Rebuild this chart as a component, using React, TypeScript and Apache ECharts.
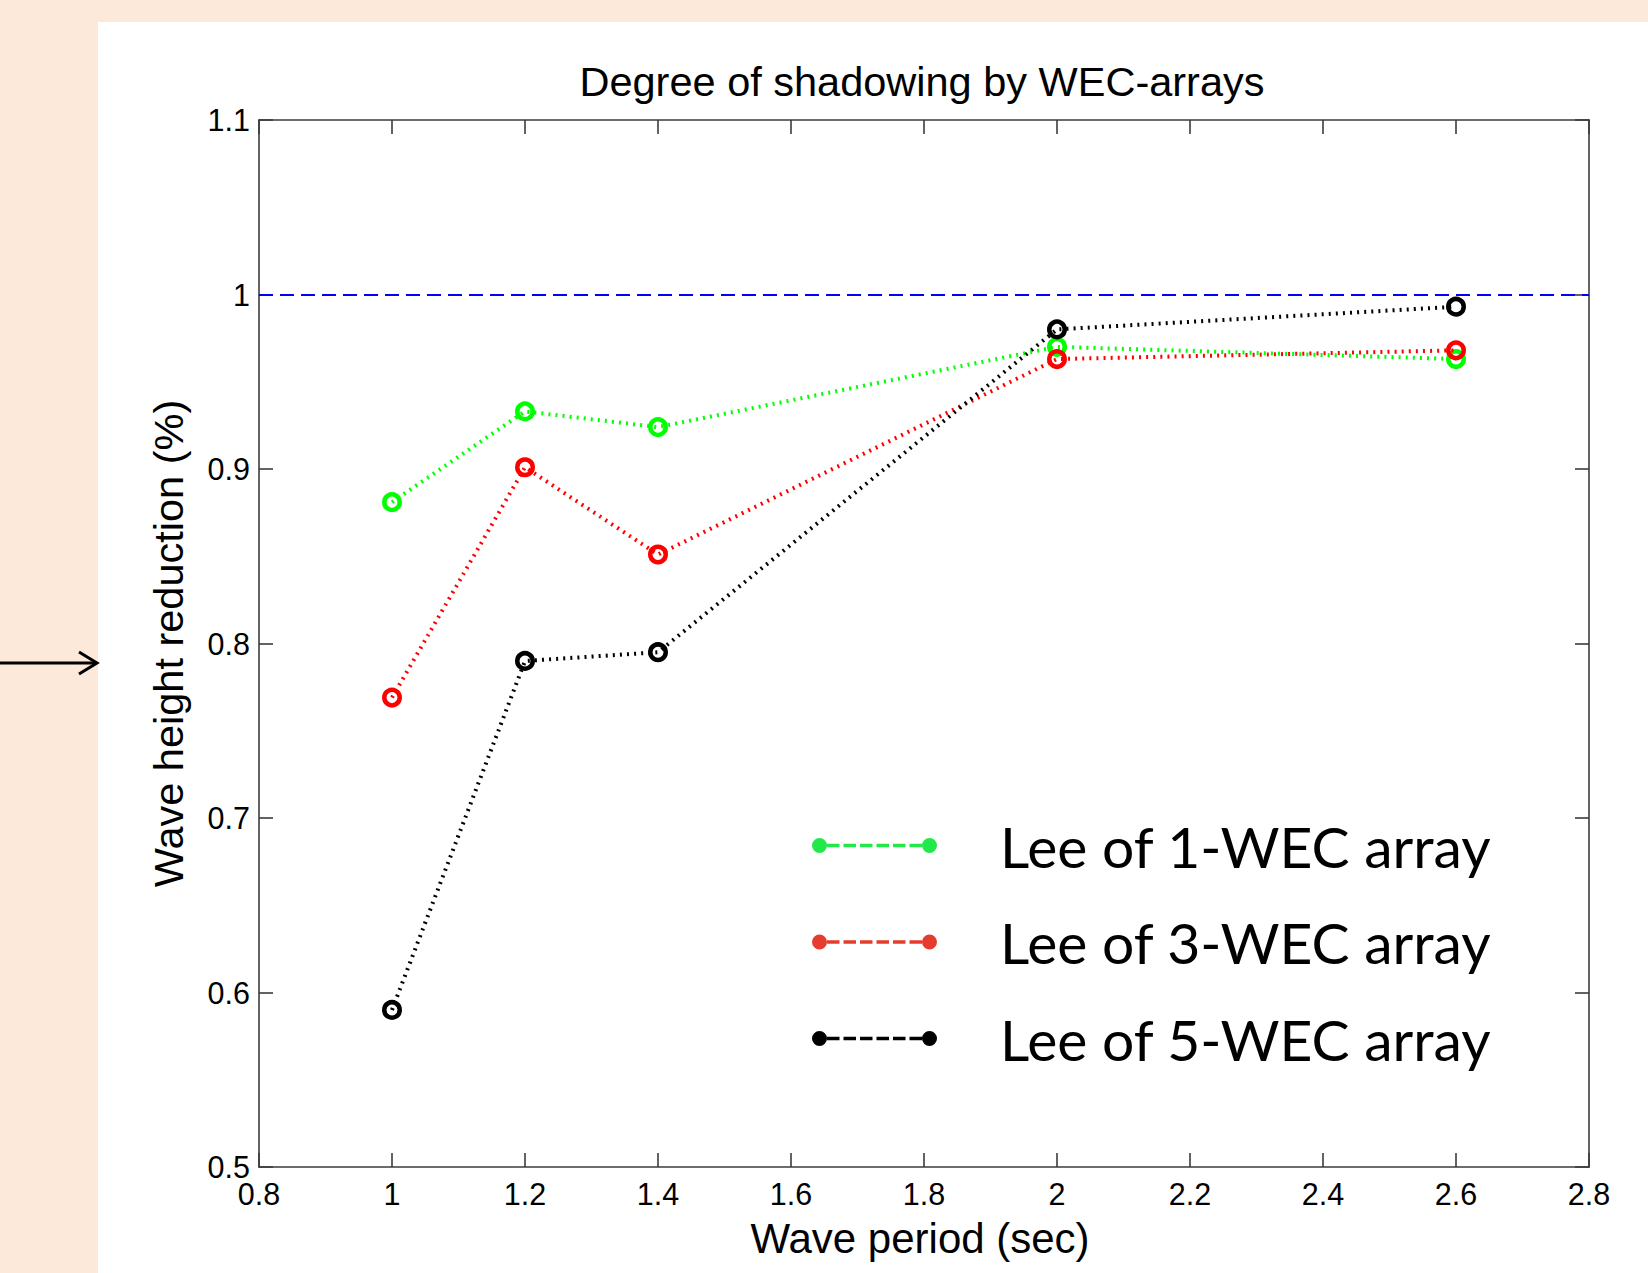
import React, { useEffect, useRef } from 'react';
import * as echarts from 'echarts';

// ---- data ----
const periods = [1, 1.2, 1.4, 2, 2.6];
const lee1 = [0.881, 0.933, 0.924, 0.97, 0.963];
const lee3 = [0.769, 0.901, 0.851, 0.963, 0.968];
const lee5 = [0.59, 0.79, 0.795, 0.98, 0.993];
const seriesNames = ['Lee of 1-WEC array', 'Lee of 3-WEC array', 'Lee of 5-WEC array'];
const seriesValues = [lee1, lee3, lee5];
const referenceLevel = 1;
const xMin = 0.8;
const xMax = 2.8;
const xStep = 0.2;
const yMin = 0.5;
const yMax = 1.1;
const yStep = 0.1;

// ---- styles ----
const seriesColors = ['#00ff00', '#ff0000', '#000000'];
const legendColors = ['#22e84a', '#e63c2d', '#000000'];
const FONT = "'Liberation Sans', Arial, Helvetica, sans-serif";
const AXIS_COLOR = '#3c3c3c';

function legendIconPath(): string {
  let d = 'path://M0,7.5A7.5,7.5 0 1,1 15,7.5A7.5,7.5 0 1,1 0,7.5Z M110,7.5A7.5,7.5 0 1,1 125,7.5A7.5,7.5 0 1,1 110,7.5Z';
  for (let i = 0; i < 6; i++) {
    const x = 15 + i * 16.5;
    d += ` M${x},5.75h12.5v3.5h-12.5Z`;
  }
  return d;
}

const fmt = (v: number) => String(parseFloat(v.toFixed(1)));

export default function App() {
  const ref = useRef<HTMLDivElement>(null);

  useEffect(() => {
    document.body.style.margin = '0';
    const chart = echarts.init(ref.current!, null, { renderer: 'svg' });

    const axisCommon = {
      type: 'value' as const,
      axisLine: { show: true, onZero: false, lineStyle: { color: AXIS_COLOR, width: 1.6 } },
      axisTick: { show: true, inside: true, length: 14, lineStyle: { color: AXIS_COLOR, width: 1.6 } },
      splitLine: { show: false },
    };

    const series: any[] = seriesValues.map((vals, i) => ({
      name: seriesNames[i],
      type: 'line',
      data: periods.map((p, j) => [p, vals[j]]),
      symbol: 'circle',
      symbolSize: 15.5,
      showSymbol: true,
      itemStyle: { color: 'rgba(0,0,0,0)', borderColor: seriesColors[i], borderWidth: 4.5 },
      lineStyle: { color: seriesColors[i], width: 4, type: [2, 5.1] },
      emphasis: { disabled: true },
      z: 2 + i,
      ...(i === 0
        ? {
            markLine: {
              silent: true,
              symbol: 'none',
              label: { show: false },
              lineStyle: { color: '#0000ff', type: [14, 7], width: 1.8 },
              emphasis: { disabled: true },
              data: [{ yAxis: referenceLevel }],
            },
          }
        : {}),
    }));

    const option: any = {
      animation: false,
      backgroundColor: 'transparent',
      title: {
        text: 'Degree of shadowing by WEC-arrays',
        left: 922,
        textAlign: 'center',
        top: 60,
        padding: 0,
        textStyle: { fontFamily: FONT, fontSize: 41.5, fontWeight: 'normal', color: '#000' },
      },
      grid: { left: 259, top: 120, width: 1330, height: 1047, containLabel: false },
      xAxis: [
        {
          ...axisCommon,
          position: 'bottom',
          min: xMin,
          max: xMax,
          interval: xStep,
          axisLabel: { show: true, margin: 11, color: '#000', fontFamily: FONT, fontSize: 30.5, formatter: fmt },
          name: 'Wave period (sec)',
          nameLocation: 'middle',
          nameGap: 50,
          nameTextStyle: { fontFamily: FONT, fontSize: 42, color: '#000', padding: [0, 8, 0, 0] },
        },
        {
          ...axisCommon,
          position: 'top',
          min: xMin,
          max: xMax,
          interval: xStep,
          axisLabel: { show: false },
        },
      ],
      yAxis: [
        {
          ...axisCommon,
          position: 'left',
          min: yMin,
          max: yMax,
          interval: yStep,
          axisLabel: { show: true, margin: 9, color: '#000', fontFamily: FONT, fontSize: 30.5, formatter: fmt },
          name: 'Wave height reduction (%)',
          nameLocation: 'middle',
          nameRotate: 90,
          nameGap: 70,
          nameTextStyle: { fontFamily: FONT, fontSize: 41.5, color: '#000' },
        },
        {
          ...axisCommon,
          position: 'right',
          min: yMin,
          max: yMax,
          interval: yStep,
          axisLabel: { show: false },
        },
      ],
      legend: {
        orient: 'vertical',
        left: 812,
        top: 817,
        padding: 0,
        itemGap: 39.5,
        itemWidth: 125,
        itemHeight: 15,
        selectedMode: false,
        icon: legendIconPath(),
        textStyle: {
          fontFamily: "Lato, 'Open Sans', sans-serif",
          fontSize: 57,
          lineHeight: 57,
          color: '#000',
          padding: [0, 0, 0, 58],
        },
        data: seriesNames.map((n, i) => ({
          name: n,
          icon: legendIconPath(),
          itemStyle: { color: legendColors[i], borderWidth: 0, borderColor: 'rgba(0,0,0,0)' },
        })),
      },
      graphic: [
        {
          type: 'line',
          shape: { x1: 0, y1: 663, x2: 96, y2: 663 },
          style: { stroke: '#000', lineWidth: 3 },
          silent: true,
        },
        {
          type: 'polyline',
          shape: { points: [[79, 652], [97, 663], [79, 674]] },
          style: { stroke: '#000', lineWidth: 3, fill: 'none' },
          silent: true,
        },
      ],
      series,
    };

    chart.setOption(option);
    return () => chart.dispose();
  }, []);

  return (
    <div
      style={{
        position: 'absolute',
        left: 0,
        top: 0,
        width: 1648,
        height: 1273,
        background: '#FDE9D9',
        overflow: 'hidden',
      }}
    >
      <div style={{ position: 'absolute', left: 98, top: 22, width: 1550, height: 1251, background: '#ffffff' }} />
      <div ref={ref} style={{ position: 'absolute', left: 0, top: 0, width: 1648, height: 1273 }} />
    </div>
  );
}
